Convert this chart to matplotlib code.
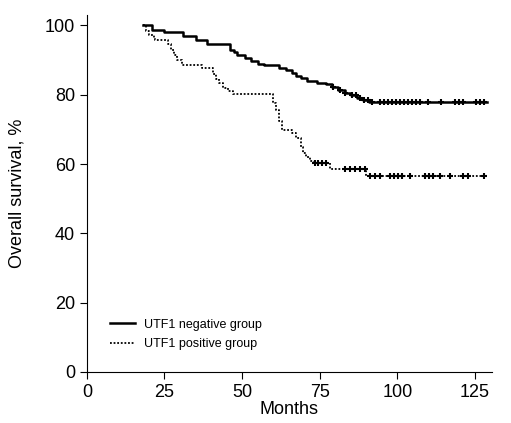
import matplotlib
matplotlib.use("Agg")
import matplotlib.pyplot as plt
import numpy as np

# Kaplan-Meier steps (months, survival %)
neg_t = [18, 21, 25, 31, 35, 38.7, 46, 47.5, 48.5, 51, 53, 55, 57, 62, 64, 66, 67.5,
         69, 71, 74, 77, 79, 81, 83, 85, 87, 89, 91, 128.8]
neg_s = [100, 98.8, 98.0, 97.0, 95.8, 94.5, 93.0, 92.2, 91.4, 90.6, 89.7, 88.9, 88.5,
         87.7, 87.0, 86.3, 85.5, 84.8, 84.0, 83.5, 83.0, 82.2, 81.4, 80.6, 79.8, 79.0,
         78.4, 77.8, 77.8]
pos_t = [18, 19, 20, 21.5, 22, 26, 27, 28, 29, 30.5, 37, 40.5, 41.5, 42.5, 44, 45.5,
         47, 60, 61, 62, 63, 66, 67.5, 69, 69.5, 70.5, 72, 73, 78.3, 90, 128.8]
pos_s = [100, 98.5, 97.3, 96.5, 95.7, 94.5, 93.0, 91.5, 90.0, 88.5, 87.6, 86.0, 84.5,
         83.3, 82.0, 81.0, 80.1, 77.5, 75.5, 72.5, 69.7, 68.9, 67.5, 65.0, 63.1, 62.0,
         61.0, 60.2, 58.5, 56.5, 56.5]

# censored observations (months)
neg_cens = [79.3, 81.5, 83.1, 85.4, 86.7, 88, 89.3, 90.5, 91.8, 94.4, 95.7, 97, 98.3,
            99.5, 100.8, 102.1, 103.4, 104.7, 106, 107.3, 109.9, 114, 118.6, 119.8,
            121.1, 125.3, 126.6, 127.9]
pos_cens = [73.5, 74.4, 75.7, 77, 83.1, 84.7, 86.3, 88, 89.6, 91.2, 92.8, 94.4, 97.6,
            98.9, 100.2, 101.5, 104.1, 108.9, 110.2, 111.5, 113.7, 116.9, 121.1, 122.7,
            127.9]


def step_value(t, s, x):
    idx = np.searchsorted(t, x, side="right") - 1
    return np.array(s)[idx]


plt.rcParams['font.family'] = ['Liberation Sans', 'DejaVu Sans']

fig = plt.figure(figsize=(5.11, 4.23), dpi=100)
ax = fig.add_axes([0.170, 0.1206, 0.793, 0.844])

ax.plot(neg_t, neg_s, drawstyle="steps-post", color="black", lw=1.8,
        label="UTF1 negative group")
ax.plot(pos_t, pos_s, drawstyle="steps-post", color="black", lw=1.3,
        linestyle=(0, (1, 1)), label="UTF1 positive group")
ax.plot(neg_cens, step_value(neg_t, neg_s, neg_cens), "+", color="black",
        ms=5, mew=1.5)
ax.plot(pos_cens, step_value(pos_t, pos_s, pos_cens), "+", color="black",
        ms=5, mew=1.5)

ax.set_xlim(0, 130.5)
ax.set_ylim(0, 103)
ax.set_xticks([0, 25, 50, 75, 100, 125])
ax.set_yticks([0, 20, 40, 60, 80, 100])
ax.spines["top"].set_visible(False)
ax.spines["right"].set_visible(False)
ax.tick_params(direction="out", length=5, labelsize=13)
ax.set_xlabel("Months", fontsize=13, labelpad=0)
ax.set_ylabel("Overall survival, %", fontsize=13, labelpad=14)

ax.legend(loc="lower left", bbox_to_anchor=(0.03, 0.03), frameon=False,
          fontsize=9, handlelength=2.0, handletextpad=0.7, labelspacing=0.6)

fig.savefig("out.png", dpi=100)
